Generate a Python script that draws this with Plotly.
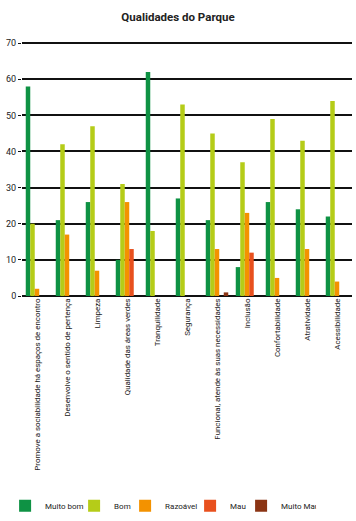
import plotly.graph_objects as go

categories = [
    "Promove a sociabilidade há espaços de encontro",
    "Desenvolve o sentido de pertença",
    "Limpeza",
    "Qualidade das áreas verdes",
    "Tranquilidade",
    "Segurança",
    "Funcional, atende às suas necessidades",
    "Inclusão",
    "Confortabilidade",
    "Atratividade",
    "Acessibilidade",
]
muito_bom = [58, 21, 26, 10, 62, 27, 21, 8, 26, 24, 22]
bom = [20, 42, 47, 31, 18, 53, 45, 37, 49, 43, 54]
razoavel = [2, 17, 7, 26, 0, 0, 13, 23, 5, 13, 4]
mau = [0, 0, 0, 13, 0, 0, 0, 12, 0, 0, 0]
muito_mau = [0, 0, 0, 0, 0, 0, 1, 0, 0, 0, 0]
y_ticks = [0, 10, 20, 30, 40, 50, 60, 70]

series_names = ["Muito bom", "Bom", "Razoável", "Mau", "Muito Mau"]
series_values = [muito_bom, bom, razoavel, mau, muito_mau]
series_colors = ["#0E9244", "#B5CC18", "#F39200", "#E8501E", "#8B3414"]
legend_widths = [24, 6, 20, 6, 30]

FAM = "Roboto, Liberation Sans, sans-serif"
def f(size, **kw):
    return dict(family=FAM, size=size, color="#222", **kw)

fig = go.Figure()
for name, vals, color, lw in zip(series_names, series_values, series_colors, legend_widths):
    fig.add_trace(go.Bar(x=categories, y=vals, name=name, marker_color=color,
                         marker_line_width=0, legendwidth=lw))

fig.update_layout(
    width=356, height=521,
    margin=dict(l=22, r=4, t=42, b=225, autoexpand=False),
    paper_bgcolor="white", plot_bgcolor="white",
    barmode="group", bargap=0.25, bargroupgap=0,
    font=f(9),
    title=dict(text="<b>Qualidades do Parque</b>", x=0.5, xanchor="center",
               y=1 - 17 / 521, yanchor="middle", font=f(11.5)),
    showlegend=True,
    legend=dict(orientation="h", x=0.42, xanchor="center",
                y=-0.826, yanchor="middle",
                font=f(8), itemwidth=30, tracegroupgap=0,
                traceorder="normal"),
)
fig.update_xaxes(tickangle=-90, showgrid=False, showline=False, ticks="",
                 tickfont=f(7.9), automargin=False)
fig.update_yaxes(range=[0, 70.3], tickvals=y_ticks, showgrid=True, gridcolor="#111", gridwidth=1.5,
                 zeroline=True, zerolinecolor="#111", zerolinewidth=1.5,
                 ticks="outside", ticklen=3, tickcolor="#111",
                 tickfont=f(9), automargin=False)

fig.write_html("out.html", config={"displayModeBar": False},
               post_script="document.body.style.margin='0';")
